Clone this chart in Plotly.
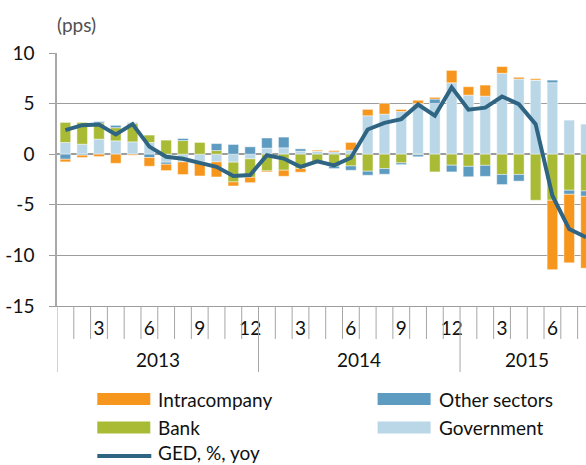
import plotly.graph_objects as go

# ---------------- data ----------------
years = [2013] * 12 + [2014] * 12 + [2015] * 8
months = list(range(1, 13)) + list(range(1, 13)) + list(range(1, 9))

government = [1.16, 0.99, 1.49, 1.32, 1.22, 1.16, -0.79, -0.76, -0.76, -0.76, -0.79, -0.46,
              0.60, 0.63, 0.30, 0.30, 0.23, 0.40, 3.80, 3.96, 4.22, 5.00, 5.02, 7.06,
              5.84, 5.74, 8.00, 7.43, 7.33, 7.06, 3.37, 2.97]
bank = [1.98, 2.15, 1.60, 1.30, 1.82, 0.73, 1.39, 1.35, 1.19, 0.36, -1.95, -1.82,
        -1.65, -1.58, -1.42, -0.92, -1.19, -1.16, -1.68, -1.42, -0.86, -0.05, -1.75, -1.09,
        -1.20, -1.10, -2.00, -2.00, -4.55, -4.55, -3.56, -3.63]
other_sectors = [-0.50, -0.10, 0.13, 0.23, 0.07, -0.33, -0.20, 0.20, 0.00, 0.69, 0.96, 0.73,
                 1.00, 1.06, 0.23, 0.00, -0.23, -0.43, -0.40, -0.56, -0.17, -0.20, 0.43, -0.66,
                 -1.03, -1.09, -1.00, -0.66, 0.00, 0.26, -0.40, -0.53]
intracompany = [-0.26, -0.23, -0.23, -0.90, -0.10, -0.86, -0.63, -1.25, -1.39, -1.49, -0.40, -0.53,
                -0.10, -0.60, -0.36, 0.10, 0.13, 0.76, 0.63, 1.06, 0.20, 0.33, 0.17, 1.22,
                0.83, 1.09, 0.66, 0.17, 0.13, -6.86, -6.77, -7.10]
ged_yoy = [2.38, 2.87, 2.94, 1.95, 2.97, 0.75, -0.26, -0.45, -0.86, -1.25, -2.15, -2.05,
           -0.10, -0.43, -1.25, -0.70, -1.10, -0.35, 2.44, 3.10, 3.47, 4.90, 3.80, 6.60,
           4.40, 4.60, 5.70, 4.95, 2.97, -4.10, -7.40, -8.20]

y_ticks = [10, 5, 0, -5, -10, -15]
month_label_every = 3

# ---------------- styling ----------------
C_INTRA = "#F7961C"
C_OTHER = "#5E9BC1"
C_BANK = "#A9BB35"
C_GOV = "#B9D7E7"
C_LINE = "#2F6583"
GRID = "#9C9C9C"
FONT = "Lato"
FS = 19

W, H = 586, 465
L, R, T, B = 57, 586, 53, 306


def px(x):
    return (x - L) / (R - L)


def py(y):
    return (B - y) / (B - T)


x = list(range(len(months)))

fig = go.Figure()
edge = dict(color="rgba(255,255,255,0.45)", width=1)
for name, vals, col in [("Government", government, C_GOV),
                        ("Bank", bank, C_BANK),
                        ("Other sectors", other_sectors, C_OTHER),
                        ("Intracompany", intracompany, C_INTRA)]:
    fig.add_trace(go.Bar(x=x, y=vals, name=name, marker=dict(color=col, line=edge),
                         width=0.63, showlegend=False))
fig.add_trace(go.Scatter(x=x, y=ged_yoy, name="GED, %, yoy", mode="lines",
                         line=dict(color=C_LINE, width=4), showlegend=False,
                         cliponaxis=False))

tickvals = [i for i, m in enumerate(months) if m % month_label_every == 0]
ticktext = [str(months[i]) for i in tickvals]

fig.update_layout(
    width=W, height=H,
    margin=dict(l=L, r=W - R, t=T, b=H - B, pad=0, autoexpand=False),
    barmode="relative",
    plot_bgcolor="white", paper_bgcolor="white",
    font=dict(family=FONT, size=FS, color="#111111"),
    showlegend=False,
    xaxis=dict(range=[-0.5, 31.0], tickmode="array", tickvals=tickvals, ticktext=ticktext,
               ticks="", showgrid=False, zeroline=False, showline=True,
               linecolor=GRID, linewidth=1, tickfont=dict(size=FS, color="#111111"),
               ticklabelstandoff=5, automargin=False),
    yaxis=dict(range=[-15, 10], tickmode="array", tickvals=y_ticks,
               ticktext=[str(v) for v in y_ticks],
               showgrid=True, gridcolor=GRID, gridwidth=1,
               zeroline=True, zerolinecolor=GRID, zerolinewidth=1.5,
               showline=True, linecolor="#A8A8A8", linewidth=1.5,
               ticks="outside", ticklen=6, tickcolor=GRID,
               tickfont=dict(size=FS, color="#111111"), ticklabelstandoff=11,
               automargin=False),
)

shapes = []
annotations = []
# category separators below axis
year_starts = [i for i in range(len(years)) if i == 0 or years[i] != years[i - 1]]
for i in range(len(months)):
    b = i - 0.5
    long = i in year_starts
    shapes.append(dict(type="line", xref="x", yref="paper", x0=b, x1=b,
                       y0=0, y1=py(372 if long else 339),
                       line=dict(color="#A6A6A6", width=1)))
# year labels
for k, s in enumerate(year_starts):
    e = year_starts[k + 1] - 1 if k + 1 < len(year_starts) else len(years) - 1
    annotations.append(dict(text=str(years[s]), x=(s + e) / 2, xref="x",
                            y=py(359), yref="paper", showarrow=False,
                            font=dict(size=FS, color="#111111"),
                            xanchor="center", yanchor="middle"))
# unit label
annotations.append(dict(text="(pps)", x=px(55), y=py(25), xref="paper", yref="paper",
                        showarrow=False, xanchor="left", yanchor="middle",
                        font=dict(size=FS, color="#505050")))

# manual legend (swatch x, swatch y, text y)
legend_items = [("Intracompany", C_INTRA, "box", 97.3, 399, 399),
                ("Other sectors", C_OTHER, "box", 377.6, 399, 399),
                ("Bank", C_BANK, "box", 97.3, 427.5, 427.5),
                ("Government", C_GOV, "box", 377.6, 427.5, 427.5),
                ("GED, %, yoy", C_LINE, "line", 97.3, 456, 452.5)]
for label, col, kind, lx, ly, ty in legend_items:
    if kind == "box":
        shapes.append(dict(type="rect", xref="paper", yref="paper",
                           x0=px(lx), x1=px(lx + 53), y0=py(ly - 6), y1=py(ly + 6),
                           fillcolor=col, line=dict(width=0)))
    else:
        shapes.append(dict(type="line", xref="paper", yref="paper",
                           x0=px(lx), x1=px(lx + 54), y0=py(ly), y1=py(ly),
                           line=dict(color=col, width=4)))
    annotations.append(dict(text=label, x=px(lx + 59), y=py(ty),
                            xref="paper", yref="paper", showarrow=False,
                            xanchor="left", yanchor="middle",
                            font=dict(size=FS, color="#111111")))

fig.update_layout(shapes=shapes, annotations=annotations)
fig.write_html("out.html", config={"displayModeBar": False},
               post_script="document.body.style.margin='0';document.body.style.padding='0';")
